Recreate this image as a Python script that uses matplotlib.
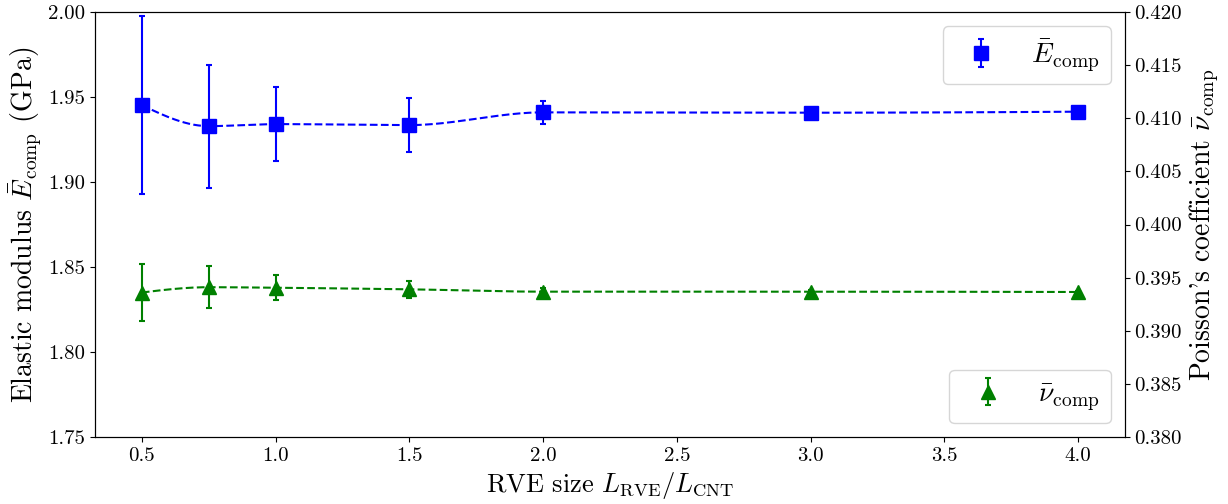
import numpy as np
import matplotlib
matplotlib.use("Agg")
import matplotlib.pyplot as plt

plt.rcParams['font.family'] = 'serif'
plt.rcParams['font.serif'] = ['cmr10']
plt.rcParams['mathtext.fontset'] = 'cm'
plt.rcParams['axes.formatter.use_mathtext'] = True
plt.rcParams['font.size'] = 20
plt.rcParams['xtick.labelsize'] = 15
plt.rcParams['ytick.labelsize'] = 15

# RVE sizes and averaged results
rve_size = [0.5, 0.75, 1.0, 1.5, 2.0, 3.0, 4.0]
E_mean = [1.9453, 1.9329, 1.9341, 1.9335, 1.9410, 1.9408, 1.9414]
E_std = [0.0525, 0.0362, 0.0218, 0.0159, 0.0068, 0.0020, 0.0010]
nu_mean = [0.3936, 0.3941, 0.39405, 0.3939, 0.39368, 0.39368, 0.39365]
nu_std = [0.0027, 0.0020, 0.0012, 0.0008, 0.0003, 0.0002, 0.0001]


def pchip_curve(x, y, n=400):
    # shape-preserving cubic through the points (Fritsch-Carlson slopes)
    x = np.asarray(x, float)
    y = np.asarray(y, float)
    h = np.diff(x)
    delta = np.diff(y) / h
    N = len(x)
    d = np.zeros(N)
    for k in range(1, N - 1):
        if delta[k - 1] * delta[k] > 0:
            w1 = 2 * h[k] + h[k - 1]
            w2 = h[k] + 2 * h[k - 1]
            d[k] = (w1 + w2) / (w1 / delta[k - 1] + w2 / delta[k])

    def end_slope(h0, h1, d0, d1):
        s = ((2 * h0 + h1) * d0 - h0 * d1) / (h0 + h1)
        if np.sign(s) != np.sign(d0):
            return 0.0
        if np.sign(d0) != np.sign(d1) and abs(s) > abs(3 * d0):
            return 3 * d0
        return s

    d[0] = end_slope(h[0], h[1], delta[0], delta[1])
    d[-1] = end_slope(h[-1], h[-2], delta[-1], delta[-2])

    xs = np.linspace(x[0], x[-1], n)
    k = np.clip(np.searchsorted(x, xs, side='right') - 1, 0, N - 2)
    t = (xs - x[k]) / h[k]
    h00 = 2 * t**3 - 3 * t**2 + 1
    h10 = t**3 - 2 * t**2 + t
    h01 = -2 * t**3 + 3 * t**2
    h11 = t**3 - t**2
    ys = h00 * y[k] + h10 * h[k] * d[k] + h01 * y[k + 1] + h11 * h[k] * d[k + 1]
    return xs, ys


fig, ax1 = plt.subplots(figsize=(12.28, 5.04), dpi=100)
fig.subplots_adjust(left=0.0774, right=0.916, top=0.976, bottom=0.133)
ax2 = ax1.twinx()

xs, ys = pchip_curve(rve_size, E_mean)
ax1.plot(xs, ys, 'b--', lw=1.5)
ax1.errorbar(rve_size, E_mean, yerr=E_std, fmt='s', color='b', ms=10,
             elinewidth=1.5, capsize=2.5, capthick=1.5,
             label=r'$\bar{E}_\mathrm{comp}$')

xs, ys = pchip_curve(rve_size, nu_mean)
ax2.plot(xs, ys, 'g--', lw=1.5)
ax2.errorbar(rve_size, nu_mean, yerr=nu_std, fmt='^', color='g', ms=10,
             elinewidth=1.5, capsize=2.5, capthick=1.5,
             label=r'$\bar{\nu}_\mathrm{comp}$')

ax1.set_ylim(1.75, 2.00)
ax2.set_ylim(0.380, 0.420)
xt = np.arange(0.5, 4.01, 0.5)
ax1.set_xticks(xt)
ax1.set_xticklabels([f'{v:.1f}' for v in xt])
yt1 = np.arange(1.75, 2.001, 0.05)
ax1.set_yticks(yt1)
ax1.set_yticklabels([f'{v:.2f}' for v in yt1])
yt2 = np.arange(0.380, 0.4201, 0.005)
ax2.set_yticks(yt2)
ax2.set_yticklabels([f'{v:.3f}' for v in yt2])

ax1.set_xlabel(r'RVE size $L_\mathrm{RVE}/L_\mathrm{CNT}$', fontsize=19)
ax1.set_ylabel(r'Elastic modulus $\bar{E}_\mathrm{comp}$ (GPa)')
ax2.set_ylabel(r"Poisson's coefficient $\bar{\nu}_\mathrm{comp}$")

ax1.legend(loc='upper right')
ax2.legend(loc='lower right')

fig.savefig('out.png', dpi=100)
